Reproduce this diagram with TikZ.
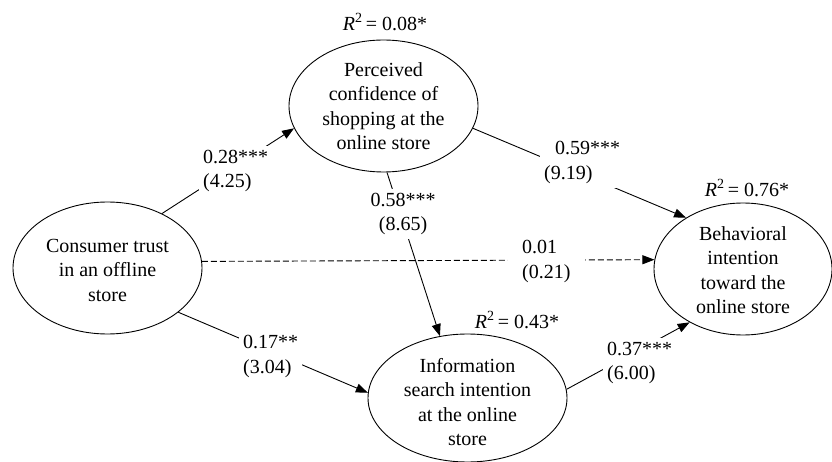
\documentclass[tikz,border=0pt]{standalone}
\usepackage{fontspec}
\setmainfont{Liberation Serif}
\usetikzlibrary{shapes.geometric,arrows.meta}
\begin{document}
\begin{tikzpicture}[x=1pt,y=-1pt,
  every node/.style={font=\fontsize{20}{24.5}\selectfont},
  var/.style={draw, ellipse, line width=0.9pt, inner sep=0pt},
  txt/.style={align=center, inner sep=0pt},
  path/.style={line width=0.9pt, -{Triangle[length=12pt,width=9pt]}},
  lbl/.style={fill=white, inner sep=4pt, align=left, anchor=west},
  rsq/.style={inner sep=0pt}]
\useasboundingbox (0,0) rectangle (832,462);

% constructs
\node[var, minimum width=189pt, minimum height=132pt] (cons) at (107.5,268) {};
\node[var, minimum width=189pt, minimum height=132pt] (perc) at (383.5,106) {};
\node[var, minimum width=178pt, minimum height=132pt] (beh) at (743,269) {};
\node[var, minimum width=199pt, minimum height=128pt] (info) at (467.5,398) {};

\node[txt] (consT) at (107.5,270) {Consumer trust\\in an offline\\store};
\node[txt] (percT) at (383.5,106) {Perceived\\confidence of\\shopping at the\\online store};
\node[txt] (behT) at (743,270) {Behavioral\\intention\\toward the\\online store};
\node[txt] (infoT) at (467.5,402) {Information\\search intention\\at the online\\store};

% explained variance
\node[rsq] (r1) at (385,22) {\textit{R}\textsuperscript{2}\,= 0.08*};
\node[rsq] (r2) at (747,188) {\textit{R}\textsuperscript{2}\,= 0.76*};
\node[rsq] (r3) at (517,320) {\textit{R}\textsuperscript{2}\,= 0.43*};

% structural paths
\draw[path] (cons.45.8) -- (perc.194.3);
\draw[path] (perc.346) -- (beh.138.1);
\draw[path] (perc.273.8) -- (info.114.4);
\draw[path, dash pattern=on 6pt off 3pt] (cons.4.2) -- (beh.174.2);
\draw[path] (cons.328.7) -- (info.177.2);
\draw[path] (info.5.9) -- (beh.225);

% path coefficients (t-values)
\node[lbl] (c1) at (199,171) {0.28***\\(4.25)};
\node[lbl, align=center, anchor=center] (c2) at (403,214) {0.58***\\(8.65)};
\node[lbl] (c3) at (540,162.5) {\hspace*{11pt}0.59***\\(9.19)};
\node[lbl, inner xsep=14pt] (c4) at (508,261.5) {0.01\\(0.21)};
\node[lbl] (c5) at (239,356.5) {0.17**\\(3.04)};
\node[lbl] (c6) at (603,363) {0.37***\\(6.00)};
\end{tikzpicture}
\end{document}
